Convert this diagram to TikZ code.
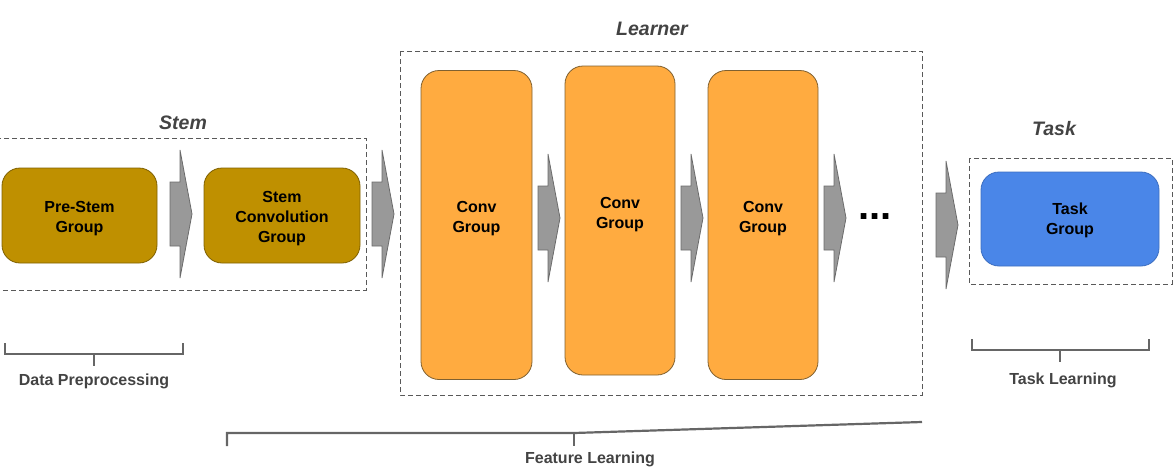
\documentclass[tikz,border=0pt]{standalone}
\usepackage{fontspec}
\setmainfont{Liberation Sans}
\usepackage{xcolor}
\definecolor{stem}{HTML}{BF9000}
\definecolor{stemline}{HTML}{7F6000}
\definecolor{conv}{HTML}{FFAB40}
\definecolor{convline}{HTML}{7F6030}
\definecolor{task}{HTML}{4A86E8}
\definecolor{taskline}{HTML}{3C6EC0}
\definecolor{arrowfill}{HTML}{999999}
\definecolor{arrowline}{HTML}{6B6B6B}
\definecolor{caption}{HTML}{434343}
\definecolor{frame}{HTML}{595959}
\definecolor{bracket}{HTML}{666666}

% Gray block arrow: #1 = left end of the shaft, #2 = middle height
\newcommand{\flowarrow}[2]{%
  \draw[arrowline, fill=arrowfill, line width=0.8pt]
    (#1,#2-32) -- (#1+10,#2-32) -- (#1+10,#2-64) -- (#1+22,#2)
    -- (#1+10,#2+64) -- (#1+10,#2+32) -- (#1,#2+32) -- cycle;}

\begin{document}
\begin{tikzpicture}[x=1pt, y=-1pt,
    box/.style={draw, rounded corners=18pt, line width=0.8pt, inner sep=0pt},
    stembox/.style={box, fill=stem, draw=stemline, minimum width=155pt, minimum height=95pt},
    convbox/.style={box, fill=conv, draw=convline, minimum width=110pt, minimum height=309pt},
    taskbox/.style={box, fill=task, draw=taskline, minimum width=178pt, minimum height=94pt},
    boxtext/.style={align=center, inner sep=0pt, font=\fontsize{16}{20}\selectfont\bfseries},
    frame/.style={draw=frame, line width=0.8pt, dash pattern=on 5pt off 3pt},
    title/.style={text=caption, font=\fontsize{19.5}{22}\selectfont\bfseries\itshape},
    caption/.style={text=caption, font=\fontsize{16}{18}\selectfont\bfseries},
    brace/.style={draw=bracket, line width=2.2pt}]
    \useasboundingbox (0,0) rectangle (1176,474);

    % Dashed frames of the three stages
    \draw[frame] (-5,138) rectangle (366,290);
    \draw[frame] (400,51) rectangle (922,395);
    \draw[frame] (969,158) rectangle (1172,284);

    \node[title] (stemtitle) at (183,123) {Stem};
    \node[title] (learnertitle) at (652,29) {Learner};
    \node[title] (tasktitle) at (1054,129) {Task};

    % Stem
    \node[stembox] (prestem) at (79.5,215.5) {};
    \node[stembox, minimum width=156pt] (stemconv) at (282,215.5) {};
    \node[boxtext] (prestemtext) at ([yshift=-3pt]prestem.center) {Pre-Stem\\Group};
    \node[boxtext] (stemconvtext) at ([yshift=-3.5pt]stemconv.center) {Stem\\Convolution\\Group};
    \flowarrow{170}{214}
    \flowarrow{372}{214}

    % Learner
    \node[convbox, minimum width=111pt] (conv1) at (476.5,225) {};
    \node[convbox] (conv2) at (620,220.5) {};
    \node[convbox] (conv3) at (763,225) {};
    \node[boxtext] (conv1text) at ([yshift=6pt]conv1.center) {Conv\\Group};
    \node[boxtext] (conv2text) at ([yshift=6pt]conv2.center) {Conv\\Group};
    \node[boxtext] (conv3text) at ([yshift=6pt]conv3.center) {Conv\\Group};
    \flowarrow{538}{218}
    \flowarrow{681}{218}
    \flowarrow{824}{218}
    \node[anchor=base, inner sep=0pt, font=\fontsize{40}{40}\selectfont\bfseries] (more) at (875,219) {...};

    % Task
    \flowarrow{936}{225}
    \node[taskbox] (taskgroup) at (1070,219) {};
    \node[boxtext] (tasktext) at ([yshift=-1pt]taskgroup.center) {Task\\Group};

    % Brackets underneath
    \draw[brace] (5,343) -- (5,354) -- (183,354) -- (183,343);
    \draw[brace] (94,354) -- (94,366);
    \node[caption] (prep) at (94,381) {Data Preprocessing};

    \draw[brace] (972,339) -- (972,350) -- (1149,350) -- (1149,339);
    \draw[brace] (1060,350) -- (1060,362);
    \node[caption] (tasklearn) at (1063,380) {Task Learning};

    \draw[brace] (227,446) -- (227,433) -- (574,433) -- (922,422);
    \draw[brace] (574,433) -- (574,446);
    \node[caption] (featlearn) at (590,459) {Feature Learning};
\end{tikzpicture}
\end{document}
